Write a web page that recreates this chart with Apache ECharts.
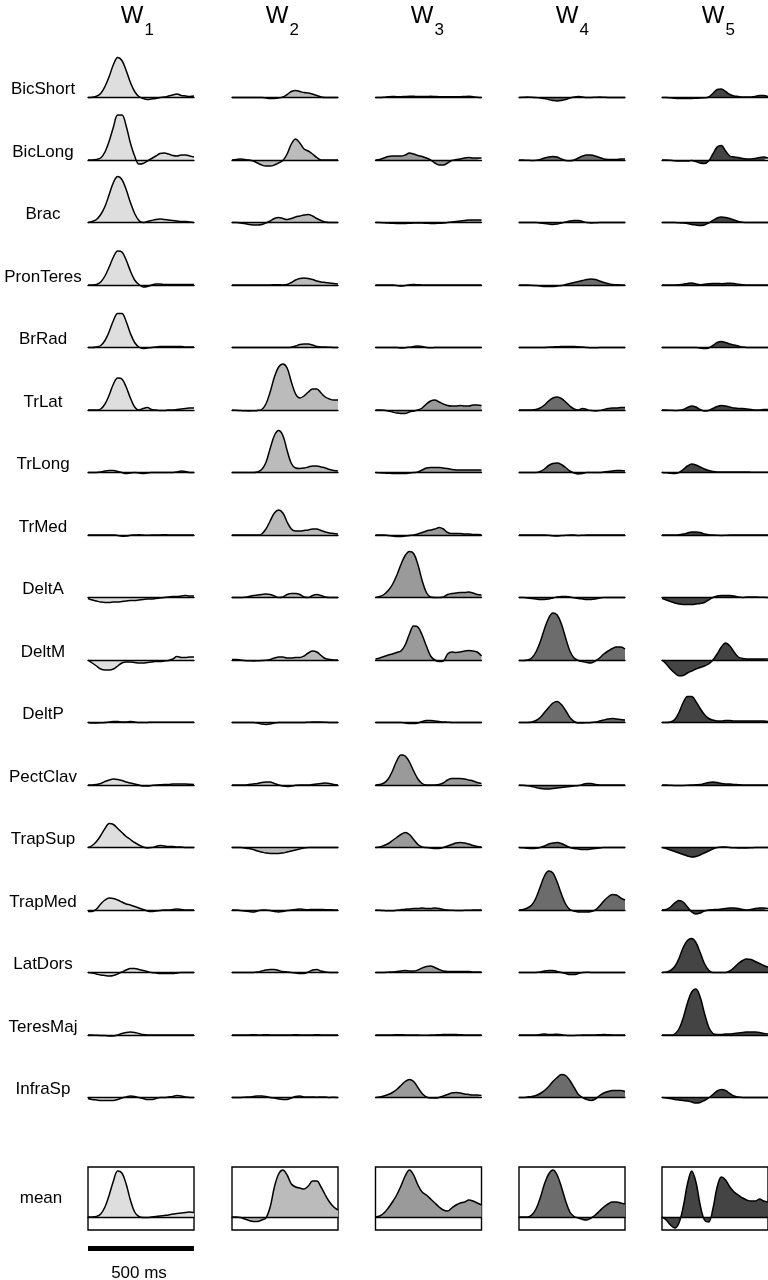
<!DOCTYPE html>
<html>
<head>
<meta charset="utf-8">
<script src="https://cdn.jsdelivr.net/npm/echarts@6/dist/echarts.min.js"></script>
<style>
  html, body { margin: 0; padding: 0; background: #fff; }
  #chart { width: 768px; height: 1280px; }
</style>
</head>
<body>
<div id="chart"></div>
<script>
  // time samples (ms) along each trace
  const times = [0, 20, 40, 60, 80, 100, 120, 140, 160, 180, 200, 220, 240, 260, 280, 300, 320, 340, 360, 380, 400, 420, 440, 460, 480, 500]
  const muscles = ['BicShort', 'BicLong', 'Brac', 'PronTeres', 'BrRad', 'TrLat', 'TrLong', 'TrMed', 'DeltA', 'DeltM', 'DeltP', 'PectClav', 'TrapSup', 'TrapMed', 'LatDors', 'TeresMaj', 'InfraSp']
  const synergyNames = ['1', '2', '3', '4', '5']

  // W1, one row per muscle (same order as muscles)
  const w1 = [
    [0, 0.3, 1.3, 4, 11, 21, 33, 40, 37, 27, 15, 6, 1, -1, -2, -1.5, -1, 0, 0.5, 1.5, 2.5, 3.5, 2, 1.5, 1, 1.5],
    [0, 0, 0.5, 2, 8, 19, 33, 45, 45, 34, 17, 4, -4, -3.5, -1, 1.5, 4, 6.5, 7, 6, 4.5, 4, 5, 5, 4, 3],
    [0, 1, 3, 8, 16, 28, 40, 46, 43, 33, 20, 9, 2, 0, 1, 2, 3, 3.5, 3, 2.5, 2, 1.5, 1, 1, 0.5, 0],
    [0, 0, 0.5, 3, 9, 18, 28, 34, 33, 25, 14, 5, 0.5, -2, -1.5, 0, 1, 1, 0.5, 0.5, 0.5, 0.5, 0.5, 0.5, 0.5, 0.5],
    [0, 0, 0.5, 2, 7, 16, 27, 34, 34, 26, 14, 5, 0.5, -1, -0.5, 0, 0.5, 1, 1, 1, 1, 1, 1, 0.5, 0.5, 0.5],
    [0, 0, 0, 1, 6, 15, 26, 32, 31, 23, 12, 3, 0, 1.5, 2.5, 0.5, 0, -0.5, -0.5, 0, 0, 0.5, 1, 1.5, 2, 2],
    [0, 0, 0, 0.5, 1.5, 2, 2, 1, 0, -1, -0.5, 0, -0.5, -1, -0.5, 0, 0, 0, 0, 0, 0, 0.5, 1.5, 1, 0, 0],
    [0, 0, 0, 0, 0, 0, 0, -0.5, -1.2, -1, -0.3, 0, 0.3, 0, -0.3, 0, 0, 0, 0.3, 0, 0, 0, 0, 0, 0, 0],
    [-1, -2.5, -3.5, -4.5, -5, -5, -4.5, -4.5, -4, -3.5, -3, -3, -2.5, -2, -1.5, -1.5, -1, -0.5, 0, 0.5, 1, 1, 1.5, 2, 1.5, 1.5],
    [0, -3, -6, -9, -10, -10, -9, -6, -3, -2, -2, -2.5, -3, -3, -2.5, -2, -1.5, -1.5, -1, -0.5, 1, 3.5, 2.5, 2.5, 3, 3],
    [0, -0.5, -0.5, -0.3, 0, 0.5, 1, 1, 0.5, 0.5, 1, 0.5, 0, 0, 0, 0.3, 0.3, 0.3, 0.3, 0.3, 0.3, 0.3, 0.3, 0.3, 0.3, 0.3],
    [0, 0, 0.5, 1.5, 3.5, 5, 6, 5.5, 4.5, 3, 2, 1, 0, -1, -1, -0.5, 0, 0.3, 0.5, 0.5, 1, 1, 1, 1, 0.8, 0.5],
    [0, 2, 6, 12, 19, 24, 23, 19, 15, 11, 8, 5, 2.5, 0.5, -0.5, 0, 1, 2, 1.5, 1, 1, 0.5, 0.5, 0, 0, 0],
    [-1.5, -1.5, 1, 6, 10, 12, 11.5, 10, 8, 6, 5, 3.5, 2, 0.5, -1, -1.5, -1, -0.5, 0, 0, 0.5, 1, 0.5, 0, 0, 0],
    [0, -0.5, -1.5, -2.5, -3, -3.5, -3, -1.5, 0.5, 2.5, 4, 4, 3, 2, 1, 0, -0.5, -1, -1, -1, -1, -0.5, 0, 0, 0, 0],
    [0, 0, -0.3, -0.5, -0.5, -1, -1, 0, 1.5, 2.5, 3, 2.5, 1.5, 0.5, 0, 0, 0, 0, 0, 0, 0, 0, 0, 0, 0, 0],
    [-1, -2, -2.5, -3, -3, -3, -3, -2, -0.5, 0.5, 1.5, 1, 0, -1, -2, -2, -1, 0, 0, 0.5, 1, 2, 1.5, 0.5, 0, 0]
  ]

  const w2 = [
    [0, 0, 0, 0, 0, 0, 0, 0, -0.5, -1, -1, -0.5, 0.5, 3, 6, 7, 6, 5, 4.5, 3.5, 2, 0.5, 0, 0, 0, 0],
    [0, 0.5, 1, 0.5, 0, -1, -3, -5, -6, -6, -5, -3, -0.5, 6, 16, 21, 17, 11, 9, 6, 2.5, 0, 0, 0, 0, 0],
    [0, 0, -0.5, -1, -2, -2.5, -2.5, -2, -0.5, 1.5, 4, 5, 4, 3, 4, 5.5, 6.5, 7.5, 8, 6.5, 4, 2, 0.5, 0, 0, 0],
    [0, 0, 0, 0, 0, 0, 0, 0, 0, 0, 0.3, 0.3, 0, 0.5, 2.5, 5, 6.5, 7, 6.5, 5.5, 4, 3, 2.5, 2, 1.5, 1],
    [0, 0, 0, 0, 0, 0, 0, 0, 0, 0, 0, 0, 0, 0, 0.3, 1.5, 3, 3.5, 3.5, 2.5, 1, 0.5, 0.5, 0.3, 0, 0],
    [0, -0.3, -0.5, -0.8, -1, -0.8, -0.5, 0.5, 6, 18, 33, 43, 46, 42, 28, 16, 12, 14, 18, 21, 21, 17, 13, 11, 10, 10],
    [0, 0, 0, 0, 0, 0, 0.5, 3, 10, 24, 37, 42, 37, 22, 9, 4.5, 4, 4.5, 5.5, 6.5, 6.5, 5.5, 4.5, 3, 2, 1.5],
    [0, 0, 0, 0, 0, 0, 0, 1, 6, 14, 22, 25, 22, 13, 6, 4, 4, 4.5, 5, 6, 6, 4.5, 3, 2, 1.5, 1],
    [0, 0, 0, 0.3, 1, 2, 2.5, 3, 3.5, 3, 1.5, 0, 0.5, 3, 4, 4, 3, 0.5, 0, 2, 3, 2, 0.5, 0, 0, 0],
    [0.5, 0.5, 0, -0.5, -0.8, -1, -0.8, -0.5, -0.3, 0.5, 2, 3, 3, 2, 2, 2.5, 2.5, 4, 7, 9, 8, 4.5, 1.5, 0.5, 0, 0],
    [0, 0, 0, 0, 0, 0, -0.5, -1.5, -2, -1.5, -0.5, 0, 0, 0, 0, 0, 0, 0, 0.3, 0.5, 0.5, 0.5, 0.3, 0, 0, 0],
    [0, 0, 0, 0, 0.5, 1, 1.5, 2.5, 3, 3, 1.5, 0, -1, -1.5, -1, -0.3, 0, 0, 0, 0.5, 1, 1.5, 2, 1.5, 0.5, 0],
    [0, 0, 0, -0.5, -1, -2, -3.5, -4.5, -5.5, -6, -6, -6, -5.5, -4.5, -3.5, -2.5, -1.5, -0.5, 0, 0, 0, 0, 0, 0, 0, 0],
    [0, 0, -0.5, -1, -1.5, -2, -1, 0, 0, -0.5, -1.5, -2, -1.5, -0.5, 0, 0.5, 1, 0.5, 0.3, 0.5, 0.5, 0.5, 0.3, 0.3, 0, 0],
    [0, 0, 0, 0, 0, 0, 0.5, 1.5, 2.5, 3, 3, 2, 1, 0.5, 0, -0.5, -1, -1, 0.5, 2.5, 3, 1.5, 0.5, 0, 0, 0],
    [0, 0, 0, 0, 0, 0.3, 0, 0, 0.3, 0, 0, 0, 0, 0, 0, 0.3, 0, 0, 0, 0, 0.3, 0, 0, 0, 0, 0],
    [0, 0, 0, 0.3, 0.5, 1, 1.5, 1.5, 1, 0, -0.5, -1.5, -2, -2, -0.5, 1, 1.5, 0.5, 0.5, 0.5, 0.3, 0.5, 0.5, 0, 0.3, 0]
  ]

  const w3 = [
    [0, 0, 0.3, 0.8, 1, 0.8, 0.8, 1, 1.2, 1.2, 1, 1, 1, 1.2, 1, 0.8, 0.8, 0.8, 0.8, 0.8, 0.8, 1, 1.2, 0.8, 0.3, 0],
    [0, 0.5, 2, 3.5, 4, 4, 4, 5, 7, 6, 4.5, 3.5, 2, 0, -3, -5, -5, -3, -0.5, 0.5, 1, 2, 2.5, 2, 2, 2],
    [0, 0, -0.3, -0.5, -0.8, -1, -1, -1, -0.8, -0.5, -0.5, -0.5, -0.8, -1, -1, -0.8, -0.5, 0, 0.5, 1, 1.5, 2, 2.5, 2.5, 2.5, 2.5],
    [0, 0, 0, 0, 0, -0.5, -1, -0.5, 0.3, 0.5, 0.3, 0, 0, 0, 0, 0, 0, 0, 0, 0, 0, 0, 0, 0, 0, 0],
    [0, 0, 0, 0, 0, 0, -0.5, -0.3, 0.3, 1, 1.5, 1, 0, -0.3, 0, 0, 0, 0, 0, 0, 0, 0, 0, 0, 0, 0],
    [0, 0, -0.3, -1, -2, -3, -3.5, -3.5, -2, -1, 0, 2, 6, 9, 10, 8, 6, 4.5, 4, 4, 4.5, 4, 4, 5, 5, 4.5],
    [0, -0.3, -0.5, -0.8, -1, -1, -1, -1, -0.5, 0, 0.5, 2.5, 4.5, 5, 5, 5, 4.5, 4, 3, 2.5, 2.5, 2.5, 2.5, 2.5, 2.5, 2.5],
    [0, 0, 0, -0.5, -1, -1.5, -1.5, -1, -0.5, 0, 1, 2.5, 4, 5, 6, 7.5, 6, 2.5, 1.5, 1.5, 1.5, 1, 1, 0.5, 0.5, 0.3],
    [0, 1, 3, 7, 13, 22, 33, 42, 46, 44, 33, 17, 5, 0.5, 0, 0, 0.5, 3, 4, 4.5, 5, 5, 5.5, 4.5, 3, 2.5],
    [1, 2, 3.5, 5, 6, 7.5, 9, 15, 26, 34, 33, 25, 14, 4, 0, -1.5, -1, 6, 8, 7.5, 8, 9, 9.5, 9, 8, 4],
    [0, 0, 0, 0, 0, 0, 0, -0.5, -1, -1, -0.5, 1, 2, 2, 1.5, 1, 0.5, 0.3, 0, 0, 0, 0, 0, 0, 0, 0],
    [0, 0.5, 2, 6, 14, 24, 30, 29, 23, 14, 6, 1.5, 0, 0, 0, 0.5, 2, 5, 6.5, 6.5, 6.5, 6, 5, 4, 2.5, 1.5],
    [0, 0.5, 2, 4, 7, 10, 13, 15, 13, 8, 3, 0.5, 0, -0.5, -1, -1, 0, 1.5, 3, 4.5, 5, 4.5, 3.5, 2, 1, 0.5],
    [0, -0.3, -0.5, -0.8, -0.8, -0.3, 0.3, 0.8, 1, 1.5, 1.5, 2, 1.5, 1.5, 2, 1.5, 0.5, 0, -0.3, -0.5, -0.5, -0.3, -0.3, 0, 0, 0],
    [0, 0, 0, 0.3, 0.5, 1, 1.5, 2, 1.5, 1.5, 2.5, 4.5, 6, 6.5, 5, 3, 1.5, 1, 1, 1, 1, 1, 1, 0.5, 0.5, 0.5],
    [0, 0, 0, 0, 0, 0.3, 0.3, 0, 0, 0, 0, -0.3, -0.3, 0, 0, 0.3, 0.5, 0.5, 0.5, 0.5, 0.3, 0, 0, 0, 0, 0],
    [0, 0.5, 1.5, 3, 5, 8, 12, 16, 18, 16, 10, 4, 0.5, -0.5, -0.5, 0, 1.5, 3, 4.5, 5, 4.5, 3.5, 3, 2.5, 2.5, 2]
  ]

  const w4 = [
    [0, 0.3, 0.5, 0.3, 0, -0.5, -1, -2, -3, -3.5, -3, -2, -0.5, 0.5, 1, 0.5, 0, 0, 0.3, 0.5, 0.3, 0, 0, 0, 0, 0],
    [0, 0, -0.3, -0.5, -0.3, 0.5, 2, 3, 3.5, 3, 1, -0.5, -0.8, 0, 2, 4, 5, 5, 4, 2.5, 1, 0.5, 0.5, 0.5, 1, 1],
    [0, 0, 0, 0, 0, -0.5, -1, -1.5, -2, -1.5, -0.5, 0.5, 1.5, 2, 2, 1, 0, -0.5, -0.3, 0, 0, 0, 0, 0, 0, 0],
    [0, 0, 0, -0.3, -0.5, -1, -1.5, -1.5, -1.5, -1, -0.5, 0.5, 1.5, 2.5, 3.5, 4.5, 5.5, 6, 5.5, 4, 2.5, 1.5, 0.5, 0.3, 0, 0],
    [0, 0, 0, 0, 0, 0, 0, 0.3, 0.5, 0.8, 1, 1, 1, 1, 0.8, 0.5, 0, -0.3, -0.3, 0, 0, 0, 0, 0, 0, 0],
    [0, 0, 0, 0, 0.5, 2, 5, 9, 12, 13, 11.5, 8, 4, 1, 0, 1.5, 0.5, -0.5, -1, -0.5, 0.5, 1.5, 2, 2, 2.5, 2.5],
    [0, 0, 0, 0, 0, 1, 3.5, 7, 9, 9.5, 8, 5, 1.5, -0.5, -1.5, -1, 0, 0, 0, 0, 0.5, 1, 1.5, 2, 2, 1.5],
    [0, 0, 0, 0, 0, 0, 0, -0.3, -0.8, -1, -0.5, -0.3, 0, 0, -0.5, -0.3, 0, 0, 0, 0, 0, 0, 0, 0, 0, 0],
    [0, 0, -0.5, -1, -1.5, -2, -2, -1.5, -0.5, 0.5, 1, 1, 0.5, -0.3, -1, -1.5, -2, -2, -1.5, -0.5, 0, 0, 0, 0, 0, 0],
    [-0.5, -0.5, 0, 2, 8, 18, 31, 42, 47, 45, 36, 22, 9, 2, -0.5, -1.5, -2.5, -3, -1, 2, 6, 9, 11.5, 13, 13, 11],
    [0, 0, 0, 0.5, 2, 5, 10, 15, 19.5, 21, 18, 12, 5, 1, -0.5, -0.5, -0.3, 0, 0.5, 1.5, 2.5, 3.5, 4, 3.5, 3, 2.5],
    [0, -0.3, -0.8, -1.5, -2.5, -3.5, -4, -4, -3.5, -3, -2.5, -2, -1.5, -1, -0.5, 0.5, 1.5, 1.5, 0.5, 0, 0, 0, 0, 0, 0, 0],
    [0, -0.3, -0.8, -1, -0.8, 0, 1.5, 3.5, 4.5, 5, 4, 2, 0, -1, -1.5, -2, -2, -1.5, -1, -0.5, 0, 0, 0, 0, 0, 0],
    [0, 0.5, 2, 5, 12, 23, 34, 39, 37, 28, 16, 6, 0.5, -1, -2, -2, -2, -1.5, 0, 4, 9, 13, 15.5, 15, 12, 10],
    [0, 0, 0, 0, 0, 0.5, 1.5, 2, 2, 1, 0, -1, -2, -2, -1, 0, 0.3, 0, 0, 0, 0, 0, 0, 0, 0, 0],
    [0, 0, 0, 0, 0, 0.5, 1, 0.5, 0.5, 0.8, 0.3, -0.3, -0.5, -0.5, -0.3, 0, 0, 0, 0, 0.3, 0.5, 0.3, 0, 0, 0, 0],
    [0, 0, 0.5, 1, 2, 4, 7, 11, 16, 20, 23, 22, 17, 10, 3, 0, -2, -3, -1.5, 2, 4.5, 6, 7, 7, 7, 6]
  ]

  const w5 = [
    [0, 0, -0.3, -0.8, -1, -1, -1, -1, -0.8, -0.5, -0.3, 0.5, 4, 8, 8.5, 6, 3, 1.5, 1, 0.5, 0.5, 0.5, 1, 2, 2, 1],
    [0, 0, -0.3, -0.8, -1, -1, -1, -0.5, -1.5, -3, -3.5, -1, 6, 13, 14.5, 9, 4, 3, 2.5, 1.5, 1, 1, 1.5, 2.5, 3, 2],
    [0, 0, 0, 0, -0.3, -0.5, -1, -2, -2.5, -3, -2.5, -0.5, 2, 4.5, 5.5, 5, 4, 2.5, 1, 0.3, 0, 0, 0, 0, 0, 0],
    [0, 0, 0, 0, 0.3, 0.8, 1.5, 2, 1, 0.3, 0.8, 1.2, 1.5, 1.5, 1.3, 1.5, 1.8, 1.5, 0.8, 0.3, 0, 0, 0, 0, 0, 0],
    [0, 0, 0, 0, 0, 0, 0, 0, 0, -0.5, -1, -0.5, 2, 5, 6, 5, 3.5, 2.5, 1.5, 0.5, 0, 0, 0, 0, 0, 0],
    [0, 0, -0.3, -0.5, -0.3, 0.5, 2.5, 4, 3, 0.5, -1, -0.5, 1.5, 3.5, 4.5, 4, 3, 2, 1.5, 1.5, 1, 0.5, 0, 0, 0.5, 0.5],
    [0, -0.3, -0.8, -1, 0, 3, 6.5, 8.5, 7.5, 5.5, 3.5, 2, 1, 0.5, 0.5, 0.5, 0.5, 0.5, 0.5, 0.5, 0.5, 0.3, 0.3, 0.3, 0.3, 0.3],
    [0, 0, 0, 0, 0.3, 1, 2, 3, 3, 2.5, 1, 0.3, 0, -0.3, -0.5, -0.3, 0, 0, 0, 0, 0, 0, 0, 0, 0, 0],
    [-1, -2.5, -4, -5.5, -6.5, -7, -7, -7, -6.5, -6, -5, -2.5, 0, 1.5, 2, 2, 2, 1.5, 0.5, 0, 0.5, 0.5, 0.5, 0.3, 0.3, 0],
    [0, -4, -9, -13, -16, -15.5, -13, -11, -9, -7.5, -6, -4, 0, 6, 13, 17, 14, 8, 3, 1.5, 1, 1, 1, 1, 1, 1],
    [0, 0, 0.5, 3, 10, 20, 26, 26, 21, 14, 8, 4, 2.5, 1.5, 1.5, 2, 2, 1.5, 1.5, 1.5, 1.5, 1.5, 1.5, 1.5, 1.5, 1],
    [0, 0, -0.3, -0.5, -0.5, -0.5, -0.3, 0, 0.3, 0.5, 1.5, 2.5, 3, 2.5, 1.5, 1, 1, 0.5, 0.3, 0, 0, 0, 0, 0, 0, 0],
    [0, -1, -2.5, -4, -5.5, -7, -8.5, -9.5, -9, -7.5, -5.5, -3.5, -1.5, 0, 0.5, 0.5, 0, -0.3, -0.5, -0.5, -0.5, -0.3, 0, 0, 0, 0],
    [0, 0.5, 3, 7, 9.5, 8, 3, -2, -4, -3, -1, 0, 0.3, 0.5, 1, 1.5, 2, 2, 1.5, 0.5, 0, 0.5, 1.5, 2, 2, 1.5],
    [0, 0.5, 2, 6, 14, 25, 32, 34, 30, 20, 9, 2.5, 0, 0, 0, 0, 1.5, 5, 9, 12, 13.5, 13, 11, 9, 7, 5.5],
    [0, 0, 0, 1, 6, 17, 32, 43, 46, 38, 22, 8, 1.5, 0.5, 0.5, 1, 1, 1.5, 2, 2.5, 3, 3, 3, 2.5, 1.5, 1],
    [0, -0.5, -1, -2, -2.5, -3, -3.5, -4.5, -5.5, -5, -3, -0.5, 3, 6.5, 8, 7, 4, 1.5, 0.5, 0, 0, 0, 0, 0, 0, 0]
  ]

  // mean activation of each synergy
  const meanW1 = [0, 0, 0.5, 3, 10, 22, 36, 46, 44, 33, 17, 5, 0.5, -0.5, -0.5, 0, 0.5, 1, 1.5, 2, 3, 3.5, 4, 4.5, 5, 4.5]
  const meanW2 = [0, 0, -0.5, -2, -3.5, -4.5, -4.5, -3, -1, 10, 30, 43, 47, 42, 33, 30, 29, 28, 31, 36, 36, 30, 22, 15, 10, 7]
  const meanW3 = [0, 1, 4, 9, 15, 22, 31, 41, 47, 42, 32, 25, 22, 18, 14, 10, 7, 6, 9, 12, 14, 15, 17, 16, 14, 12]
  const meanW4 = [0, 0, 0, 2, 8, 19, 33, 43, 47, 42, 30, 16, 5, 0.5, -1, -2.5, -3, -1, 2, 6, 10, 13, 15, 15, 14, 13]
  const meanW5 = [0, -3, -8, -11, -6, 10, 33, 46, 35, 12, -3, -5, 8, 30, 40, 37, 30, 25, 22, 19, 17, 16, 16, 18, 16, 15]

  const columns = [w1, w2, w3, w4, w5]
  const means = [meanW1, meanW2, meanW3, meanW4, meanW5]
  const fills = ['#dedede', '#bbbbbb', '#9a9a9a', '#6c6c6c', '#444444']
  const colLeft = [88, 232, 375.5, 519, 662]
  const colWidth = 106
  const font = '"Liberation Sans", Arial, Helvetica, sans-serif'

  const myChart = echarts.init(document.getElementById('chart'))

  let grid = [], xAxis = [], yAxis = [], series = [], graphic = []

  function addPlot(left, top, height, min, max, values, fill, boxed) {
    let idx = grid.length
    grid.push({
      left: left, top: top, width: colWidth, height: height,
      show: !!boxed, borderColor: '#000', borderWidth: 1.4, backgroundColor: 'transparent'
    })
    xAxis.push({
      type: 'category', gridIndex: idx, data: times, boundaryGap: false, z: 5,
      axisLine: { show: true, onZero: true, lineStyle: { color: '#000', width: 1.4 } },
      axisTick: { show: false }, axisLabel: { show: false }, splitLine: { show: false }
    })
    yAxis.push({
      type: 'value', gridIndex: idx, min: min, max: max,
      axisLine: { show: false }, axisTick: { show: false }, axisLabel: { show: false }, splitLine: { show: false }
    })
    series.push({
      type: 'line', xAxisIndex: idx, yAxisIndex: idx, data: values,
      smooth: 0.35, symbol: 'none', silent: true,
      lineStyle: { color: '#000', width: 1.5 },
      areaStyle: { color: fill, opacity: 1 }
    })
  }

  // trace rows
  muscles.forEach((name, r) => {
    let base = 97.5 + 62.5 * r
    columns.forEach((col, c) => {
      addPlot(colLeft[c], base - 48, 64, -16, 48, col[r], fills[c], false)
    })
    graphic.push({
      type: 'text', x: 43, y: base - 8,
      style: { text: name, fill: '#000', font: '17px ' + font, textAlign: 'center', textVerticalAlign: 'middle', align: 'center', verticalAlign: 'middle' }
    })
  })

  // mean row (boxed)
  means.forEach((m, c) => {
    addPlot(colLeft[c], 1167, 63, -13, 50, m, fills[c], true)
  })
  graphic.push({
    type: 'text', x: 41, y: 1198,
    style: { text: 'mean', fill: '#000', font: '17px ' + font, textAlign: 'center', textVerticalAlign: 'middle', align: 'center', verticalAlign: 'middle' }
  })

  // column titles W with subscript
  const titleX = [132, 277, 422, 567, 713]
  synergyNames.forEach((s, c) => {
    graphic.push({
      type: 'text', x: titleX[c], y: 16,
      style: { text: 'W', fill: '#000', font: '24px ' + font, textAlign: 'center', textVerticalAlign: 'middle', align: 'center', verticalAlign: 'middle' }
    })
    graphic.push({
      type: 'text', x: titleX[c] + 12.5, y: 30,
      style: { text: s, fill: '#000', font: '17px ' + font, textAlign: 'left', textVerticalAlign: 'middle', align: 'left', verticalAlign: 'middle' }
    })
  })

  // time scale bar
  graphic.push({ type: 'rect', shape: { x: 88, y: 1246, width: 106, height: 5 }, style: { fill: '#000' } })
  graphic.push({
    type: 'text', x: 139, y: 1273,
    style: { text: '500 ms', fill: '#000', font: '17px ' + font, textAlign: 'center', textVerticalAlign: 'middle', align: 'center', verticalAlign: 'middle' }
  })

  let option = {
    animation: false,
    backgroundColor: '#fff',
    grid: grid,
    xAxis: xAxis,
    yAxis: yAxis,
    series: series,
    graphic: { elements: graphic }
  }

  myChart.setOption(option)
</script>
</body>
</html>
